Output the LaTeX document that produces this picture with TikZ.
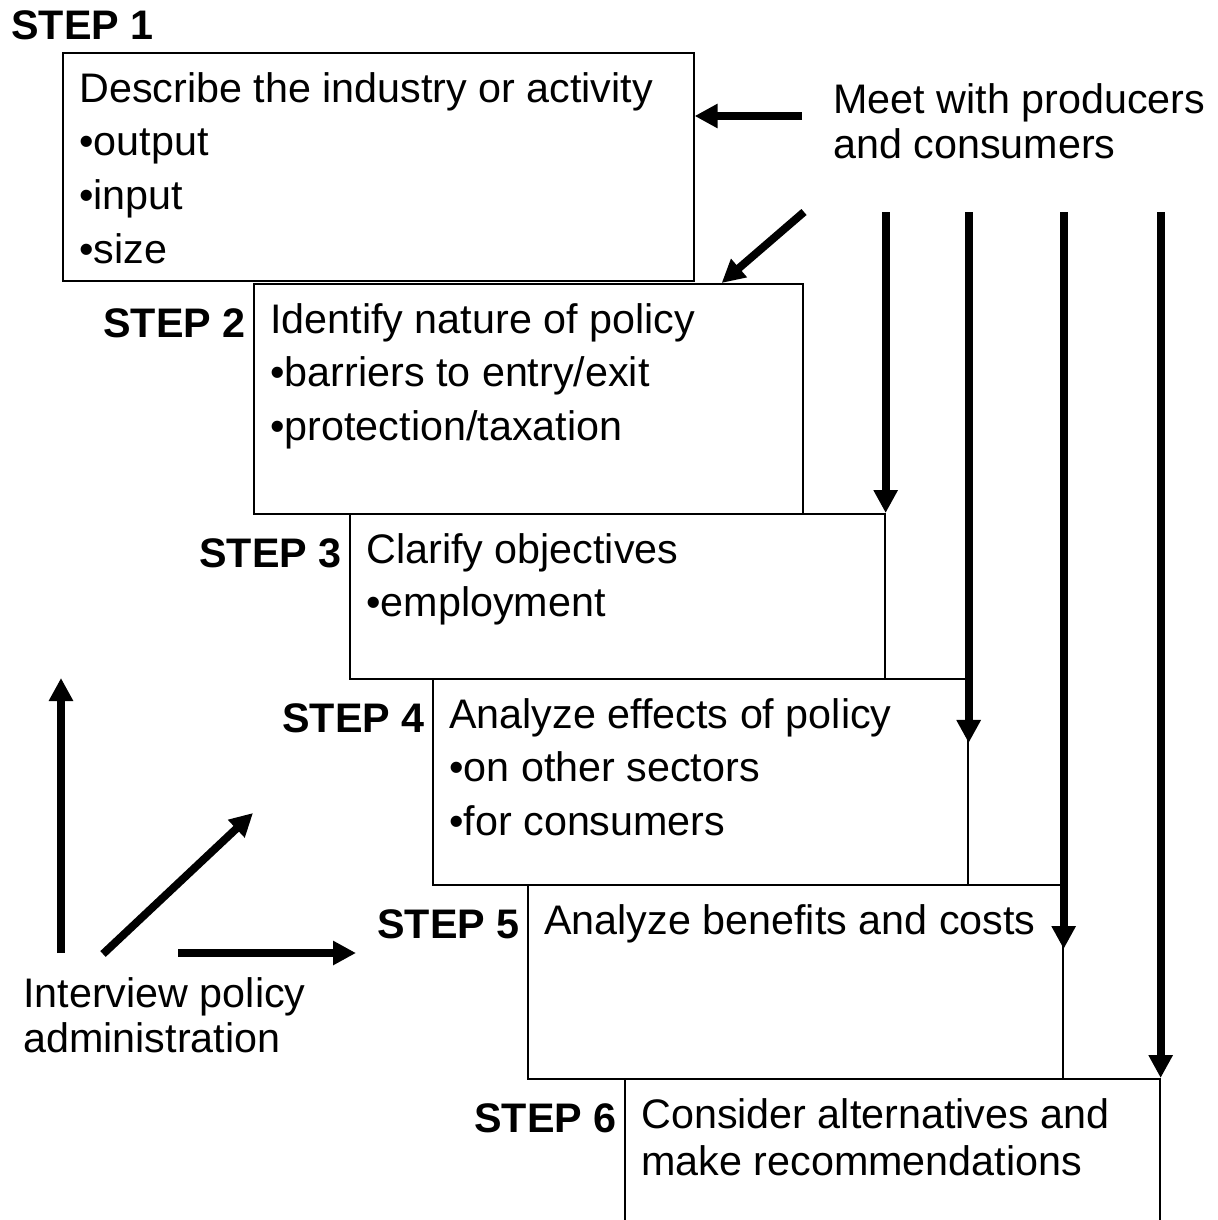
\documentclass[tikz,border=0pt]{standalone}
\usepackage{fontspec}
\setmainfont{Liberation Sans}
\usetikzlibrary{arrows.meta, positioning, calc}

\begin{document}
\begin{tikzpicture}[
    x=0.02cm, y=-0.02cm,
    stepbox/.style={rectangle, draw, line width=1pt, anchor=north west, minimum width=10.7cm, inner sep=0pt},
    boxtext/.style={anchor=north west, align=left, inner sep=0pt, font=\fontsize{23.5}{27}\selectfont},
    steplabel/.style={anchor=north east, inner sep=0pt, font=\fontsize{23.5}{27}\selectfont\bfseries},
    note/.style={anchor=north west, align=left, inner sep=0pt, font=\fontsize{23.5}{26}\selectfont},
    bigarrow/.style={line width=4.5pt, -{Triangle[length=0.46cm, width=0.46cm]}}
]
\useasboundingbox (0,0) rectangle (1217,1220);
\clip (0,0) rectangle (1217,1220);

% the six steps, stepping down to the right
\node[stepbox, minimum width=12.62cm, minimum height=4.56cm] (b1) at (62,52) {};
\node[stepbox, minimum width=10.98cm, minimum height=4.6cm] (b2) at (253,283) {};
\node[stepbox, minimum height=3.3cm] (b3) at (349,513) {};
\node[stepbox, minimum height=4.12cm] (b4) at (432,678) {};
\node[stepbox, minimum height=3.88cm] (b5) at (527,884) {};
\node[stepbox, minimum height=4cm] (b6) at (624,1078) {};

\node[boxtext] (t1) at ([shift={(17,20)}]b1.north west) {Describe the industry or activity\\[3.5pt]•output\\[3.5pt]•input\\[3.5pt]•size};
\node[boxtext] (t2) at ([shift={(17,20)}]b2.north west) {Identify nature of policy\\[3.5pt]•barriers to entry/exit\\[3.5pt]•protection/taxation};
\node[boxtext] (t3) at ([shift={(17,20)}]b3.north west) {Clarify objectives\\[3.5pt]•employment};
\node[boxtext] (t4) at ([shift={(17,20)}]b4.north west) {Analyze effects of policy\\[3.5pt]•on other sectors\\[3.5pt]•for consumers};
\node[boxtext] (t5) at ([shift={(17,20)}]b5.north west) {Analyze benefits and costs};
\node[boxtext] (t6) at ([shift={(17,20)}]b6.north west) {Consider alternatives and\\make recommendations};

\node[steplabel, anchor=south west] (s1) at ([shift={(-51,-12)}]b1.north west) {STEP 1};
\node[steplabel] (s2) at ([shift={(-7,25)}]b2.north west) {STEP 2};
\node[steplabel] (s3) at ([shift={(-7,25)}]b3.north west) {STEP 3};
\node[steplabel] (s4) at ([shift={(-7,25)}]b4.north west) {STEP 4};
\node[steplabel] (s5) at ([shift={(-7,25)}]b5.north west) {STEP 5};
\node[steplabel] (s6) at ([shift={(-7,25)}]b6.north west) {STEP 6};

% sources of information
\node[note] (meet) at (833,83) {Meet with producers\\and consumers};
\node[note] (admin) at (23,977) {Interview policy\\administration};

\coordinate (m1) at (802,116);
\coordinate (m2) at (804,212);
\foreach \s in {3,...,6}
    \coordinate (top\s) at (b\s.north east |- m2);

\draw[bigarrow] (m1) -- (m1 -| b1.east);
\draw[bigarrow] (m2) -- ($(b2.north east)+(-82,0)$);
\draw[bigarrow] (top3) -- (b3.north east);
\draw[bigarrow] (top4) -- ([yshift=-1.3cm]b4.north east);
\draw[bigarrow] (top5) -- ([yshift=-1.3cm]b5.north east);
\draw[bigarrow] (top6) -- (b6.north east);

\coordinate (a1) at (61,953);
\coordinate (a2) at (103,954);
\coordinate (a2end) at (253,813);
\coordinate (a3) at (178,953);
\coordinate (a3end) at (356,953);

\draw[bigarrow] (a1) -- (a1 |- b4.north);
\draw[bigarrow] (a2) -- (a2end);
\draw[bigarrow] (a3) -- (a3end);

\end{tikzpicture}
\end{document}
